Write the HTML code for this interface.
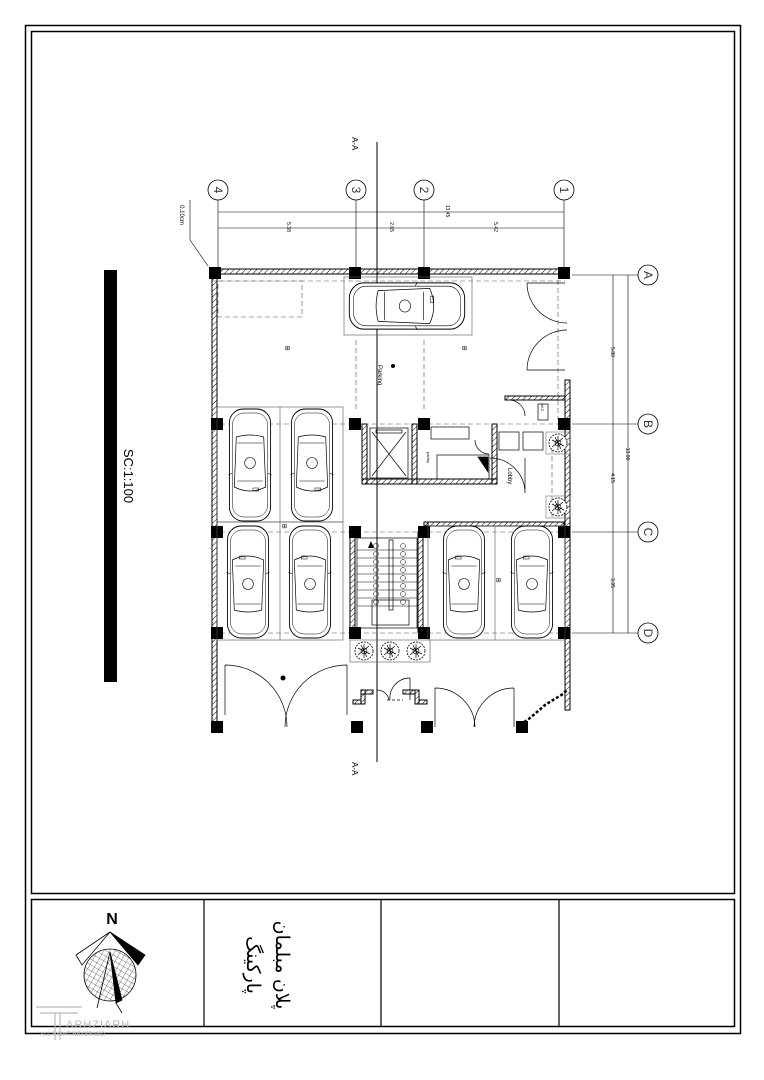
<!DOCTYPE html>
<html><head><meta charset="utf-8"><style>
html,body{margin:0;padding:0;background:#fff;}
svg{display:block;font-family:"Liberation Sans",sans-serif;}
</style></head><body>
<svg width="764" height="1080" viewBox="0 0 764 1080" xmlns="http://www.w3.org/2000/svg">
<defs>
<pattern id="ht" width="4" height="4" patternUnits="userSpaceOnUse" patternTransform="rotate(45)"><line x1="0" y1="0" x2="0" y2="4" stroke="#000" stroke-width="1"/></pattern>
<pattern id="mesh" width="5" height="5" patternUnits="userSpaceOnUse" patternTransform="rotate(30)"><path d="M0 0H5M0 0V5" stroke="#000" stroke-width="0.5" fill="none"/></pattern>
<g id="carV">
<rect x="-21" y="-56" width="42" height="112" rx="14" fill="#fff" stroke="#000" stroke-width="0.9"/>
<rect x="-18" y="-52" width="36" height="104" rx="12" fill="none" stroke="#000" stroke-width="0.5"/>
<path d="M-16 -22 Q0 -30 16 -22 L14 28 Q0 32 -14 28 Z" fill="none" stroke="#000" stroke-width="0.7"/>
<path d="M-13 -16 H13 M-13 22 H13 M-18 -8 L-22 -10 M18 -8 L22 -10" stroke="#000" stroke-width="0.6"/>
<circle cx="0" cy="2" r="5.5" fill="none" stroke="#000" stroke-width="0.6"/>
<rect x="-9" y="-26" width="6" height="3" fill="none" stroke="#000" stroke-width="0.5"/>
</g>
<g id="tree"><circle r="9" fill="#fff" stroke="#000" stroke-width="0.8" stroke-dasharray="2 1"/><path d="M-6 -3 L6 3 M-3 -6 L3 6 M-6 4 L5 -5 M0 -7 V7" stroke="#000" stroke-width="0.7"/><circle r="3" fill="none" stroke="#000" stroke-width="0.6"/></g>
<g id="col"><rect x="-6" y="-6" width="12" height="12" fill="#000"/></g>
</defs>

<rect x="25.5" y="25.5" width="715" height="1008" fill="none" stroke="#000" stroke-width="1.5"/>
<rect x="31.5" y="31.5" width="703" height="862" fill="none" stroke="#000" stroke-width="1.5"/>
<rect x="31.5" y="899.5" width="703" height="127" fill="none" stroke="#000" stroke-width="1.5"/>
<line x1="204" y1="900" x2="204" y2="1026" stroke="#000" stroke-width="1.2"/>
<line x1="381" y1="900" x2="381" y2="1026" stroke="#000" stroke-width="1.2"/>
<line x1="559" y1="900" x2="559" y2="1026" stroke="#000" stroke-width="1.2"/>

<rect x="104" y="270" width="13" height="412" fill="#000"/>
<text x="0" y="0" font-size="13" transform="translate(124,476) rotate(90)" text-anchor="middle">SC:1:100</text>

<g stroke="#000" stroke-width="0.8" fill="#fff" font-size="13">
<circle cx="218" cy="190" r="10"/><circle cx="356" cy="190" r="10"/><circle cx="424" cy="190" r="10"/><circle cx="564" cy="190" r="10"/>
<circle cx="648" cy="275" r="10"/><circle cx="648" cy="424" r="10"/><circle cx="648" cy="532" r="10"/><circle cx="648" cy="633" r="10"/>
</g>
<g font-size="12" fill="#333" text-anchor="middle">
<text transform="translate(218,190) rotate(90)" y="4">4</text>
<text transform="translate(356,190) rotate(90)" y="4">3</text>
<text transform="translate(424,190) rotate(90)" y="4">2</text>
<text transform="translate(564,190) rotate(90)" y="4">1</text>
<text transform="translate(648,275) rotate(90)" y="4">A</text>
<text transform="translate(648,424) rotate(90)" y="4">B</text>
<text transform="translate(648,532) rotate(90)" y="4">C</text>
<text transform="translate(648,633) rotate(90)" y="4">D</text>
</g>
<g stroke="#000" stroke-width="0.6">
<line x1="218" y1="200" x2="218" y2="268"/><line x1="356" y1="200" x2="356" y2="268"/><line x1="424" y1="200" x2="424" y2="268"/><line x1="564" y1="200" x2="564" y2="268"/>
<line x1="218" y1="212" x2="564" y2="212"/><line x1="218" y1="228" x2="564" y2="228"/>
<line x1="572" y1="275" x2="638" y2="275"/><line x1="572" y1="424" x2="638" y2="424"/><line x1="572" y1="532" x2="638" y2="532"/><line x1="572" y1="633" x2="638" y2="633"/>
<line x1="613" y1="275" x2="613" y2="633"/><line x1="628" y1="275" x2="628" y2="633"/>
<line x1="208" y1="266" x2="190" y2="240"/><line x1="190" y1="240" x2="190" y2="200"/>
</g>
<g font-size="5" fill="#000" text-anchor="middle">
<text transform="translate(287,227) rotate(90)">5.38</text><text transform="translate(390,227) rotate(90)">2.65</text><text transform="translate(494,227) rotate(90)">5.42</text><text transform="translate(446,211) rotate(90)">13.45</text>
<text transform="translate(611,352) rotate(90)">5.80</text><text transform="translate(611,478) rotate(90)">4.15</text><text transform="translate(611,583) rotate(90)">3.95</text><text transform="translate(626,454) rotate(90)">13.90</text>
<text transform="translate(180,215) rotate(90)" font-size="6">0.10cm</text>
</g>

<line x1="377" y1="142" x2="377" y2="762" stroke="#000" stroke-width="1"/>
<text transform="translate(352,137) rotate(90)" font-size="8">A-A</text>
<text transform="translate(352,762) rotate(90)" font-size="8">A-A</text>

<g stroke="#555" stroke-width="0.6" stroke-dasharray="5 3" fill="none">
<line x1="212" y1="281" x2="565" y2="281"/><line x1="212" y1="424" x2="565" y2="424"/><line x1="212" y1="532" x2="565" y2="532"/><line x1="212" y1="633" x2="565" y2="633"/>
<line x1="356" y1="340" x2="356" y2="410"/><line x1="424" y1="340" x2="424" y2="410"/>
<line x1="558" y1="280" x2="558" y2="420"/><line x1="552" y1="440" x2="552" y2="520"/>
<rect x="218" y="281" width="84" height="36"/>
</g>

<g fill="url(#ht)" stroke="#000" stroke-width="1">
<rect x="212" y="269" width="5" height="461"/>
<rect x="212" y="269" width="352" height="5"/>
<rect x="565" y="380" width="5" height="330"/>
<rect x="362" y="424" width="5" height="60"/><rect x="362" y="479" width="55" height="5"/><rect x="412" y="424" width="5" height="60"/>
<rect x="417" y="479" width="80" height="5"/><rect x="492" y="424" width="5" height="60"/>
<rect x="424" y="522" width="140" height="4"/><rect x="424" y="522" width="4" height="12"/>
<rect x="350" y="532" width="5" height="100"/><rect x="418" y="532" width="5" height="100"/>
<rect x="505" y="396" width="60" height="4"/>
<rect x="353" y="700" width="8" height="4"/><rect x="361" y="690" width="4" height="14"/><rect x="361" y="690" width="12" height="4"/>
<rect x="419" y="700" width="8" height="4"/><rect x="415" y="690" width="4" height="14"/><rect x="403" y="690" width="12" height="4"/>
</g>
<g fill="#000">
<use href="#col" x="215" y="273"/><use href="#col" x="355" y="273"/><use href="#col" x="424" y="273"/><use href="#col" x="564" y="273"/>
<use href="#col" x="217" y="424"/><use href="#col" x="355" y="424"/><use href="#col" x="424" y="424"/><use href="#col" x="564" y="424"/>
<use href="#col" x="217" y="532"/><use href="#col" x="355" y="532"/><use href="#col" x="424" y="532"/><use href="#col" x="564" y="532"/>
<use href="#col" x="217" y="633"/><use href="#col" x="355" y="633"/><use href="#col" x="424" y="633"/><use href="#col" x="564" y="633"/>
<use href="#col" x="217" y="727"/><use href="#col" x="357" y="727"/><use href="#col" x="427" y="727"/><use href="#col" x="522" y="727"/>
</g>

<g fill="none" stroke="#555" stroke-width="0.6">
<rect x="344" y="277" width="128" height="58"/>
<rect x="217" y="407" width="126" height="115"/><line x1="280" y1="407" x2="280" y2="640"/>
<rect x="217" y="522" width="126" height="118"/>
<rect x="428" y="526" width="137" height="114"/><line x1="495" y1="526" x2="495" y2="640"/>
<rect x="350" y="640" width="80" height="22"/>
</g>

<use href="#carV" transform="translate(407,306) rotate(90) scale(1.1,1.03)"/>
<use href="#carV" transform="translate(250,465) rotate(180) scale(0.98,1)"/>
<use href="#carV" transform="translate(312,465) rotate(180) scale(0.98,1)"/>
<use href="#carV" transform="translate(248,582) scale(0.98,1)"/>
<use href="#carV" transform="translate(310,582) scale(0.98,1)"/>
<use href="#carV" transform="translate(464,582) scale(0.98,1)"/>
<use href="#carV" transform="translate(532,582) scale(0.98,1)"/>

<g stroke="#000" stroke-width="0.7" fill="none">
<rect x="370" y="428" width="38" height="50"/><line x1="372" y1="432" x2="406" y2="476"/><line x1="406" y1="432" x2="372" y2="476"/>
<rect x="376" y="430" width="26" height="3"/>
<rect x="431" y="427" width="38" height="12"/>
<rect x="437" y="455" width="52" height="24"/><path d="M478 457 L488 457 L488 472 Z" fill="#000"/>
<path d="M475 440 A14 14 0 0 0 489 454"/>
<rect x="499" y="432" width="20" height="18"/><rect x="523" y="432" width="20" height="18"/>
<path d="M490 458 A35 35 0 0 1 525 493 M525 458 V493"/>
<path d="M509 400 A16 16 0 0 1 525 416"/>
<rect x="538" y="404" width="10" height="16"/>
<path d="M527 283 H565 M527 283 A40 40 0 0 0 567 323"/>
<path d="M527 370 H565 M527 370 A40 40 0 0 1 567 330"/>
<rect x="357" y="538" width="60" height="90"/>
<g stroke-width="0.5"><line x1="357" y1="550" x2="417" y2="550"/><line x1="357" y1="558" x2="417" y2="558"/><line x1="357" y1="566" x2="417" y2="566"/><line x1="357" y1="574" x2="417" y2="574"/><line x1="357" y1="582" x2="417" y2="582"/><line x1="357" y1="590" x2="417" y2="590"/><line x1="357" y1="598" x2="417" y2="598"/><line x1="357" y1="606" x2="417" y2="606"/></g>
<rect x="389" y="540" width="4" height="70"/>
<rect x="372" y="600" width="37" height="25"/>
<path d="M225 665 V715 M225 665 A62 62 0 0 1 287 727"/>
<path d="M347 665 V715 M347 665 A62 62 0 0 0 285 727"/>
<path d="M377 690 A12 12 0 0 1 389 700"/>
<path d="M410 678 V700 M410 678 A20 20 0 0 0 390 700"/>
<path d="M435 688 V727 M435 688 A40 40 0 0 1 475 727"/>
<path d="M514 688 V727 M514 688 A40 40 0 0 0 474 727"/>
<path d="M520 725 L530 718 L537 712 L545 705 L553 700 L563 694 L567 690" stroke-width="2.5" stroke-dasharray="3 2"/>
<line x1="387" y1="700" x2="403" y2="700" stroke-dasharray="3 2"/>
</g>
<g fill="none" stroke="#000" stroke-width="0.5">
<circle cx="376" cy="546" r="2.5"/><circle cx="376" cy="554" r="2.5"/><circle cx="376" cy="562" r="2.5"/><circle cx="376" cy="570" r="2.5"/><circle cx="376" cy="578" r="2.5"/><circle cx="376" cy="586" r="2.5"/><circle cx="376" cy="594" r="2.5"/><circle cx="376" cy="602" r="2.5"/>
<circle cx="403" cy="546" r="2.5"/><circle cx="403" cy="554" r="2.5"/><circle cx="403" cy="562" r="2.5"/><circle cx="403" cy="570" r="2.5"/><circle cx="403" cy="578" r="2.5"/><circle cx="403" cy="586" r="2.5"/><circle cx="403" cy="594" r="2.5"/><circle cx="403" cy="602" r="2.5"/>
</g>
<path d="M368 548 L371 541 L374 548 Z" fill="#000"/>
<use href="#tree" x="364" y="651"/><use href="#tree" x="390" y="651"/><use href="#tree" x="416" y="651"/>
<use href="#tree" x="558" y="443"/><use href="#tree" x="558" y="507"/>
<rect x="546" y="432" width="24" height="22" fill="none" stroke="#555" stroke-width="0.5"/>
<rect x="546" y="496" width="24" height="22" fill="none" stroke="#555" stroke-width="0.5"/>

<g font-size="6" fill="#000">
<text transform="translate(378,365) rotate(90)" font-size="6">Parking</text>
<text transform="translate(508,468) rotate(90)" font-size="6">Lobby</text>
<text transform="translate(427,452) rotate(90)" font-size="4">pantry</text>
<text transform="translate(541,404) rotate(90)" font-size="4">W.C</text>
<text x="285" y="350">⊞</text><text x="462" y="350">⊞</text><text x="282" y="528">⊞</text><text x="496" y="582">⊞</text>
</g>
<circle cx="393" cy="366" r="2" fill="#000"/><circle cx="283" cy="678" r="2.5" fill="#000"/>

<text x="112" y="924" font-size="16" font-weight="bold" text-anchor="middle">N</text>
<g stroke="#000" stroke-width="0.8">
<path d="M110 932 L145 955 L138 965 L110 932 Z" fill="#000"/>
<path d="M110 932 L76 955 L82 965 Z" fill="#fff"/>
<circle cx="110" cy="975" r="26" fill="url(#mesh)"/>
<path d="M110 952 L122 1000 L116 1003 Z" fill="#000"/>
<line x1="110" y1="952" x2="97" y2="1008"/><line x1="116" y1="1003" x2="122" y2="1013"/>
</g>
<g stroke="#bbb" stroke-width="1.2" fill="none">
<line x1="36" y1="1007" x2="82" y2="1007"/><line x1="40" y1="1013" x2="78" y2="1013"/>
<line x1="55" y1="1013" x2="55" y2="1040"/><line x1="60" y1="1013" x2="60" y2="1040"/>
</g>
<text x="66" y="1028" font-size="11" fill="#bbb" letter-spacing="1">ARHZIARH</text>
<text x="40" y="1036" font-size="6" fill="#bbb">ALL RIGHT RESERVED</text>

<g font-family="'Liberation Sans','Noto Sans CJK SC',sans-serif" font-size="19" fill="#000">
<text transform="translate(276,965) rotate(90)" text-anchor="middle">پلان مبلمان</text>
<text transform="translate(247,965) rotate(90)" text-anchor="middle">پارکینگ</text>
</g>
</svg>
</body></html>
